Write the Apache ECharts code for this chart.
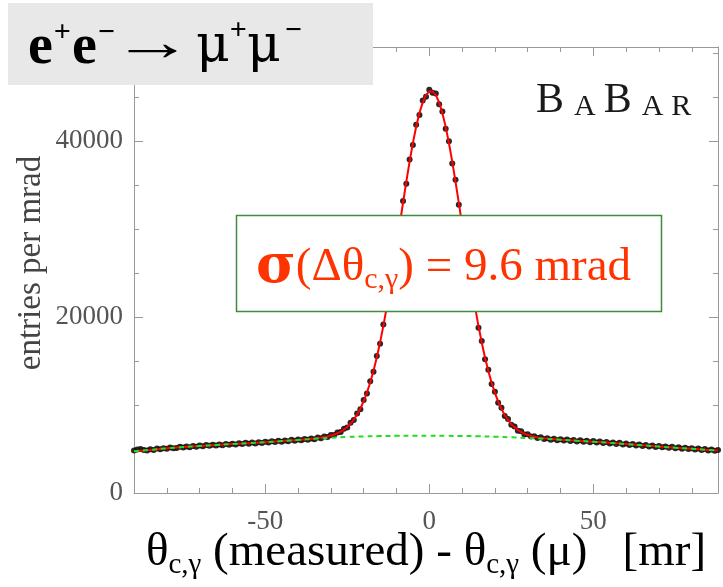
<!DOCTYPE html>
<html><head><meta charset="utf-8">
<script src="https://cdn.jsdelivr.net/npm/echarts@6/dist/echarts.min.js"></script>
<style>html,body{margin:0;padding:0;background:#fff}#c{width:723px;height:587px}</style>
</head><body><div id="c"></div><script>
// measured bins (mrad)
const binX = [-90,-89,-88,-87,-86,-85,-84,-83,-82,-81,-80,-79,-78,-77,-76,-75,-74,-73,-72,-71,-70,-69,-68,-67,-66,-65,-64,-63,-62,-61,-60,-59,-58,-57,-56,-55,-54,-53,-52,-51,-50,-49,-48,-47,-46,-45,-44,-43,-42,-41,-40,-39,-38,-37,-36,-35,-34,-33,-32,-31,-30,-29,-28,-27,-26,-25,-24,-23,-22,-21,-20,-19,-18,-17,-16,-15,-14,-13,-12,-11,-10,-9,-8,-7,-6,-5,-4,-3,-2,-1,0,1,2,3,4,5,6,7,8,9,10,11,12,13,14,15,16,17,18,19,20,21,22,23,24,25,26,27,28,29,30,31,32,33,34,35,36,37,38,39,40,41,42,43,44,45,46,47,48,49,50,51,52,53,54,55,56,57,58,59,60,61,62,63,64,65,66,67,68,69,70,71,72,73,74,75,76,77,78,79,80,81,82,83,84,85,86,87,88];
const entries = [4820,4950,5010,4900,4820,4960,4890,5050,4970,5100,
5020,5180,5090,5120,5250,5170,5300,5210,5340,5260,
5400,5310,5450,5360,5480,5400,5520,5440,5560,5490,
5610,5520,5650,5570,5700,5610,5730,5640,5780,5690,
5820,5730,5870,5790,5930,5840,5980,5890,6040,5940,
6090,5990,6140,6050,6200,6120,6300,6230,6420,6380,
6600,6590,6880,6930,7310,7460,7980,8290,9030,9520,
10560,11300,12700,13780,15560,16980,19150,20900,23450,25450,
28250,30320,33200,35150,37900,39550,41850,42980,44620,45050,
45850,45500,45400,44200,43380,41420,39980,37450,35600,32760,
30720,27810,25800,23050,21250,18780,17280,15200,14020,12380,
11520,10260,9690,8760,8400,7750,7560,7080,7020,6660,
6680,6410,6460,6250,6330,6140,6220,6040,6170,6000,
6120,5960,6080,5910,6030,5860,5990,5830,5950,5780,
5900,5740,5850,5680,5800,5630,5750,5570,5700,5520,
5640,5470,5580,5400,5520,5350,5470,5290,5410,5240,
5350,5190,5300,5130,5250,5080,5200,5040,5150,4990,
5100,4940,5050,4880,5000,4840,4950,4790,4900];
// fit curve (red)
const fitX = [-90,-85,-80,-75,-70,-65,-60,-55,-50,-45,-40,
-35,-34,-33,-32,-31,-30,-29,-28,-27,-26,-25,-24,-23,-22,-21,-20,-19,-18,-17,-16,-15,-14,-13,-12,-11,-10,-9,-8,-7,-6,-5,-4,-3,-2,-1,0,1,2,3,4,5,6,7,8,9,10,11,12,13,14,15,16,17,18,19,20,21,22,23,24,25,26,27,28,29,30,31,32,33,34,35,
40,45,50,55,60,65,70,75,80,85,88];
const fitY = [4750,4900,5080,5220,5350,5450,5560,5660,5770,5900,6030,
6202,6245,6297,6359,6436,6532,6647,6794,6982,7220,
7521,7891,8353,8920,9609,10439,11419,12567,13897,15413,
17117,19004,21066,23281,25623,28055,30527,32992,35396,37678,
39777,41632,43189,44403,45234,45657,45655,45230,44397,43181,
41622,39763,37662,35378,32972,30505,28029,25597,23255,21040,
18978,17087,15381,13863,12531,11381,10395,9563,8872,8303,
7839,7465,7166,6930,6744,6599,6482,6390,6317,6259,
6211,
6050,5940,5830,5700,5560,5420,5280,5150,5030,4900,4820];
// background (green dashed)
const bgX = [-90,-85,-80,-75,-70,-65,-60,-55,-50,-45,-40,-35,-30,-25,-20,-15,-10,-5,0,5,10,15,20,25,30,35,40,45,50,55,60,65,70,75,80,85,88];
const bgY = [4750,4900,5080,5220,5350,5450,5560,5660,5770,5900,6030,6160,6280,6370,6430,6470,6500,6510,6510,6500,6480,6450,6400,6330,6250,6150,6050,5940,5830,5700,5560,5420,5280,5150,5030,4900,4820];
// ticks
const xMajor = [-50,0,50];
const xMinor = [-80,-70,-60,-40,-30,-20,-10,10,20,30,40,60,70,80];
const yMajor = [0,20000,40000];
const yMinor = [5000,10000,15000,25000,30000,35000,45000,50000];

const SERIF = '"Liberation Serif", "Times New Roman", serif';
const DSERIF = '"DejaVu Serif", serif';
const AX = '#999';
const X0 = -90, X1 = 88, Y0 = 0, Y1 = 50700;

function xAx(pos, ticks, len, showLine, labels) {
  return {
    type:'value', min:X0, max:X1, position:pos, gridIndex:0,
    axisLine:{show:showLine, onZero:false, lineStyle:{color:AX, width:1}},
    axisTick:{show:true, inside:true, length:len, customValues:ticks, lineStyle:{color:AX}},
    axisLabel:labels ? {show:true, customValues:xMajor, formatter:v=>String(v), color:'#555', fontFamily:SERIF, fontSize:27, margin:15} : {show:false},
    splitLine:{show:false}
  };
}
function yAx(pos, ticks, len, showLine, labels) {
  return {
    type:'value', min:Y0, max:Y1, position:pos, gridIndex:0,
    axisLine:{show:showLine, onZero:false, lineStyle:{color:AX, width:1}},
    axisTick:{show:true, inside:true, length:len, customValues:ticks, lineStyle:{color:AX}},
    axisLabel:labels ? {show:true, customValues:yMajor, formatter:v=>String(v), color:'#555', fontFamily:SERIF, fontSize:27, margin:11} : {show:false},
    splitLine:{show:false}
  };
}

const xa0 = xAx('bottom', xMajor, 9, true, true);
xa0.name = '{t|θ}{s|c,γ}{t| (measured) - θ}{s|c,γ}{t| (μ)   [mr]}';
xa0.nameLocation = 'middle';
xa0.nameGap = 33;
xa0.nameMoveOverlap = false;
xa0.nameTextStyle = {
  rich:{
    t:{fontFamily:SERIF, fontSize:47, color:'#000', lineHeight:54, verticalAlign:'middle'},
    s:{fontFamily:SERIF, fontSize:29, color:'#000', lineHeight:20, verticalAlign:'bottom'}
  }
};
const ya0 = yAx('left', yMajor, 9, true, true);
ya0.name = 'entries per mrad';
ya0.nameLocation = 'middle';
ya0.nameRotate = 90;
ya0.nameGap = 86;
ya0.nameMoveOverlap = false;
ya0.nameTextStyle = {fontFamily:SERIF, fontSize:33, color:'#444', padding:[0,0,0,14]};

const chart = echarts.init(document.getElementById('c'), null, {renderer:'canvas'});
chart.setOption({
  animation:false,
  backgroundColor:'#fff',
  grid:{left:134, right:5, top:47, bottom:94, containLabel:false, outerBoundsMode:'none'},
  xAxis:[xa0, xAx('bottom', xMinor, 5, false, false), xAx('top', xMajor, 9, true, false), xAx('top', xMinor, 5, false, false)],
  yAxis:[ya0, yAx('left', yMinor, 5, false, false), yAx('right', yMajor, 9, true, false), yAx('right', yMinor, 5, false, false)],
  series:[
    {type:'scatter', xAxisIndex:0, yAxisIndex:0, symbol:'circle', symbolSize:6,
     itemStyle:{color:'#111', opacity:0.9}, data:binX.map((x,i)=>[x, entries[i]]), z:2},
    {type:'line', xAxisIndex:0, yAxisIndex:0, showSymbol:false, smooth:false,
     lineStyle:{color:'#ff0000', width:2}, data:fitX.map((x,i)=>[x, fitY[i]]), z:3},
    {type:'line', xAxisIndex:0, yAxisIndex:0, showSymbol:false, smooth:true,
     lineStyle:{color:'#22dd22', width:2, type:[5,4]}, data:bgX.map((x,i)=>[x, bgY[i]]), z:4}
  ],
  graphic:[
    {type:'rect', z:100, shape:{x:8, y:3, width:365, height:82}, style:{fill:'#e8e8e8'}},
    {type:'text', z:101, x:28, y:49, style:{
      text:'{e|e}{sup|+}{e|e}{sup|−}',
      verticalAlign:'middle',
      rich:{
        e:{fontFamily:SERIF, fontSize:56, fontWeight:'bold', fill:'#000', lineHeight:62, verticalAlign:'middle'},
        sup:{fontFamily:SERIF, fontSize:30, fontWeight:'bold', fill:'#000', lineHeight:34, verticalAlign:'top', padding:[0,1,0,1]}
      }}},
    {type:'text', z:101, x:112, y:46, scaleX:1.5, style:{
      text:'→', verticalAlign:'middle', fontFamily:SERIF, fontSize:54, fill:'#000'}},
    {type:'text', z:101, x:196, y:47, style:{
      text:'{a|μ}{sup|+}{a|μ}{sup2|−}',
      verticalAlign:'middle',
      rich:{
        a:{fontFamily:DSERIF, fontSize:52, fill:'#000', lineHeight:62, verticalAlign:'middle'},
        sup:{fontFamily:SERIF, fontSize:30, fontWeight:'bold', fill:'#000', lineHeight:38, verticalAlign:'top'},
        sup2:{fontFamily:SERIF, fontSize:30, fontWeight:'bold', fill:'#000', lineHeight:38, verticalAlign:'top', padding:[0,0,0,4]}
      }}},
    {type:'text', z:101, x:536, y:102, style:{
      text:'{b|B}{a|A}{b|B}{a|A}{r|R}',
      verticalAlign:'middle',
      rich:{
        b:{fontFamily:SERIF, fontSize:42, fill:'#1a1a1a', padding:[0,10,0,0], lineHeight:40, verticalAlign:'bottom'},
        a:{fontFamily:SERIF, fontSize:30, fill:'#1a1a1a', padding:[0,8,0,0], lineHeight:30, verticalAlign:'bottom'},
        r:{fontFamily:SERIF, fontSize:30, fill:'#1a1a1a', lineHeight:30, verticalAlign:'bottom'}
      }}},
    {type:'rect', z:100, shape:{x:236.5, y:215.5, width:425, height:96}, style:{fill:'#fff', stroke:'#3f8a3f', lineWidth:1.5}},
    {type:'text', z:101, x:256, y:268, style:{
      text:'{sig|σ}{t|(Δθ}{sub|c,γ}{t|) = 9.6 mrad}',
      verticalAlign:'middle',
      rich:{
        sig:{fontFamily:DSERIF, fontSize:54, fontWeight:'bold', fill:'#ff3300', lineHeight:54, verticalAlign:'middle'},
        t:{fontFamily:SERIF, fontSize:47, fill:'#ff3300', lineHeight:54, verticalAlign:'middle'},
        sub:{fontFamily:SERIF, fontSize:30, fill:'#ff3300', lineHeight:20, verticalAlign:'bottom'}
      }}}
  ]
});
</script></body></html>
